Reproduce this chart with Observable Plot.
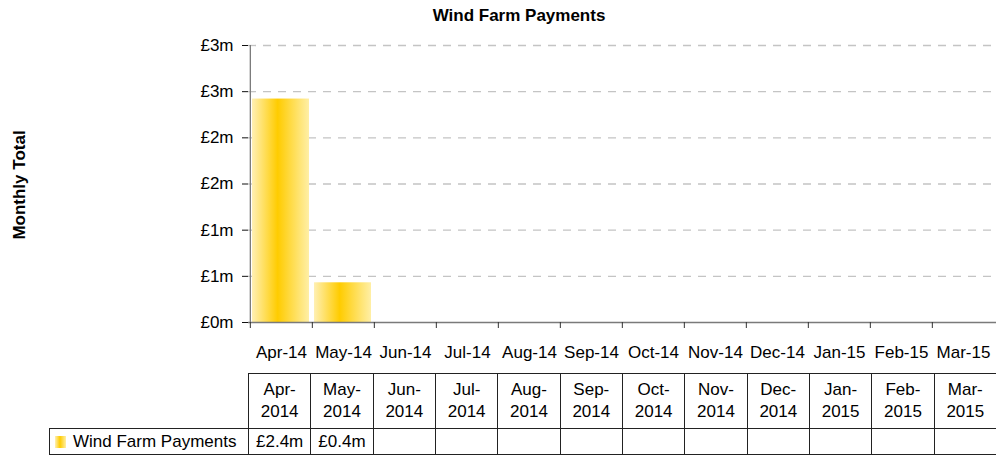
<!DOCTYPE html>
<html><head><meta charset="utf-8">
<script src="https://cdn.jsdelivr.net/npm/d3@7"></script>
<script src="https://cdn.jsdelivr.net/npm/@observablehq/plot@0.6"></script>
<style>
body{margin:0;background:#fff;font-family:"Liberation Sans",Arial,sans-serif;color:#000;}
#wrap{position:relative;width:996px;height:455px;overflow:hidden;background:#fff;}
#title{position:absolute;top:7px;left:519px;transform:translateX(-50%);font-weight:bold;font-size:17px;line-height:17px;white-space:nowrap;}
#ylab{position:absolute;left:0;top:0;transform-origin:0 0;transform:translate(19px,185px) rotate(-90deg) translate(-50%,-50%);font-weight:bold;font-size:17px;line-height:17px;white-space:nowrap;}
#chart{position:absolute;left:0;top:0;}
table.dt{position:absolute;left:49px;top:373px;border-collapse:collapse;table-layout:fixed;font-size:17px;}
table.dt td{border:1px solid #222;padding:0;text-align:center;white-space:nowrap;}
table.dt td.blank{border:none;}
table.dt tr.hd td{height:54px;line-height:22px;}
table.dt tr.rw td{height:25px;line-height:25px;}
table.dt td.leg{text-align:left;padding-left:5px;}
.sw{display:inline-block;width:11px;height:12px;margin-right:7px;vertical-align:-1px;background:linear-gradient(to right,#fff0b4 0%,#ffcc00 45%,#ffefa6 100%);}
</style></head><body><div id="wrap"><div id="title"></div><div id="ylab"></div><div id="chart"></div></div>
<script>
const months = ["Apr-14","May-14","Jun-14","Jul-14","Aug-14","Sep-14","Oct-14","Nov-14","Dec-14","Jan-15","Feb-15","Mar-15"];
const tableMonths = ["Apr-","May-","Jun-","Jul-","Aug-","Sep-","Oct-","Nov-","Dec-","Jan-","Feb-","Mar-"];
const tableYears = ["2014","2014","2014","2014","2014","2014","2014","2014","2014","2015","2015","2015"];
const values = [2.42, 0.43, null, null, null, null, null, null, null, null, null, null];
const valueLabels = ["£2.4m","£0.4m","","","","","","","","","",""];
const yTicks = [0, 0.5, 1, 1.5, 2, 2.5, 3];
const yTickLabels = ["£0m","£1m","£1m","£2m","£2m","£3m","£3m"];
const seriesName = "Wind Farm Payments";
const titleText = "Wind Farm Payments";
const yLabelText = "Monthly Total";

document.getElementById("title").textContent = titleText;
document.getElementById("ylab").textContent = yLabelText;

const data = months.map((m, i) => ({month: m, value: values[i]}));
const W = 996, H = 365, ML = 248, MR = 0, MT = 45, MB = 43;
const step = (W - ML - MR) / months.length;

const svg = Plot.plot({
  width: W, height: H,
  marginLeft: ML, marginRight: MR, marginTop: MT, marginBottom: MB,
  style: {fontFamily: '"Liberation Sans", Arial, sans-serif', fontSize: "17px", color: "#000", background: "transparent", overflow: "visible"},
  x: {domain: months, padding: 0},
  y: {domain: [0, 3]},
  marks: [
    Plot.ruleY(yTicks.filter(d => d > 0), {stroke: "#c4c4c4", strokeWidth: 1.3, strokeDasharray: "8,7"}),
    Plot.barY(data.filter(d => d.value != null), {x: "month", y: "value", fill: "url(#wfpGrad)", insetLeft: 2, insetRight: 3}),
    Plot.ruleY([0], {stroke: "#7a7a7a", strokeWidth: 1.3}),
    Plot.ruleX([months[0]], {x: d => d, y1: 0, y2: 3, dx: -step / 2, stroke: "#7a7a7a", strokeWidth: 1.3}),
    Plot.axisY({ticks: yTicks, tickFormat: d => yTickLabels[yTicks.indexOf(d)], tickSize: 6, tickPadding: 9, label: null, stroke: "#111"}),
    Plot.axisX({tickSize: 0, tickPadding: 23, label: null}),
    Plot.axisX({tickSize: 6, tickFormat: () => "", dx: -step / 2, label: null, stroke: "#333"})
  ]
});
const ns = "http://www.w3.org/2000/svg";
const defs = document.createElementNS(ns, "defs");
defs.innerHTML = '<linearGradient id="wfpGrad" x1="0" y1="0" x2="1" y2="0"><stop offset="0" stop-color="#fff0b4"/><stop offset="0.45" stop-color="#ffcc00"/><stop offset="1" stop-color="#ffefa6"/></linearGradient>';
svg.insertBefore(defs, svg.firstChild);
document.getElementById("chart").appendChild(svg);

// data table
const table = document.createElement("table");
table.className = "dt";
const colgroup = document.createElement("colgroup");
const c0 = document.createElement("col"); c0.style.width = (ML - 49) + "px"; colgroup.appendChild(c0);
months.forEach(() => { const c = document.createElement("col"); c.style.width = step + "px"; colgroup.appendChild(c); });
table.appendChild(colgroup);
table.style.width = (ML - 49 + step * months.length + 1) + "px";
const hr = document.createElement("tr"); hr.className = "hd";
const blank = document.createElement("td"); blank.className = "blank"; hr.appendChild(blank);
months.forEach((m, i) => { const td = document.createElement("td"); td.innerHTML = tableMonths[i] + "<br>" + tableYears[i]; hr.appendChild(td); });
table.appendChild(hr);
const rr = document.createElement("tr"); rr.className = "rw";
const leg = document.createElement("td"); leg.className = "leg";
const sw = document.createElement("span"); sw.className = "sw"; leg.appendChild(sw);
leg.appendChild(document.createTextNode(seriesName));
rr.appendChild(leg);
valueLabels.forEach(v => { const td = document.createElement("td"); td.textContent = v; rr.appendChild(td); });
table.appendChild(rr);
document.getElementById("wrap").appendChild(table);
</script>
</body></html>
